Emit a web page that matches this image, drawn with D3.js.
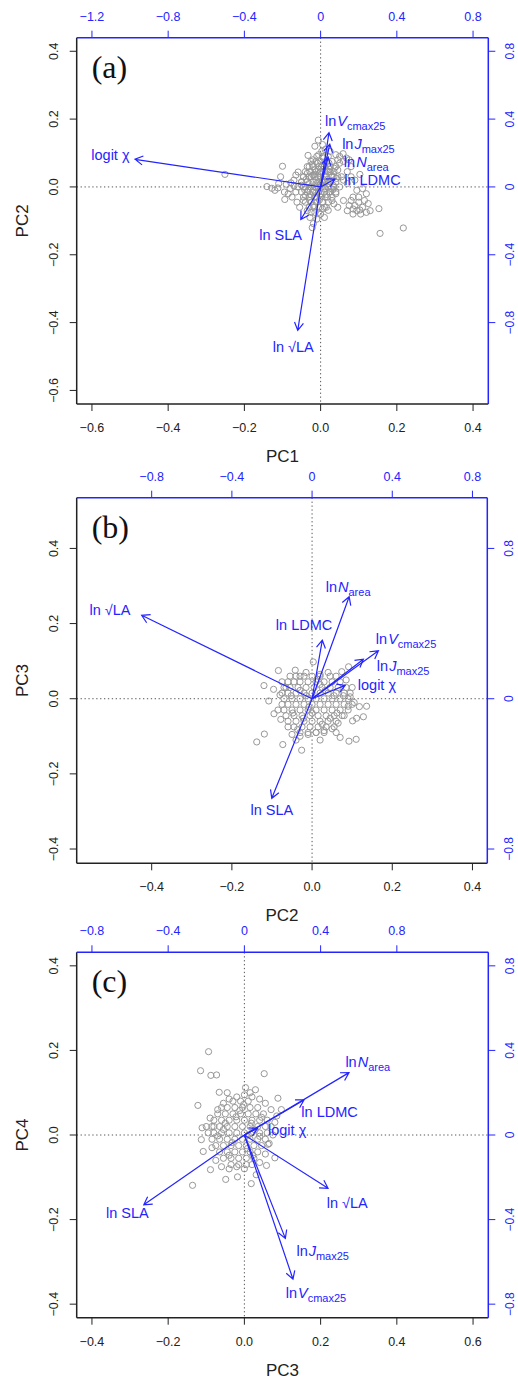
<!DOCTYPE html>
<html>
<head>
<meta charset="utf-8">
<script src="https://cdn.jsdelivr.net/npm/d3@7"></script>
<style>
  body { margin: 0; background: #fff; }
  svg { display: block; font-family: "Liberation Sans", Arial, sans-serif; }
</style>
</head>
<body>
<div id="chart"></div>
<script>
// variable order used by every loadings / label array below
var varKeys = ["Vcmax", "Jmax", "Narea", "LDMC", "SLA", "LA", "logit"];

var loadingsA = [[0.044, 0.32], [0.048, 0.252], [0.04, 0.176], [0.075, 0.047], [-0.104, -0.192], [-0.12, -0.846], [-0.974, 0.163]];
var loadingsB = [[0.331, 0.255], [0.256, 0.21], [0.185, 0.543], [0.051, 0.312], [-0.201, -0.53], [-0.85, 0.444], [0.165, 0.071]];
var loadingsC = [[0.255, -0.682], [0.215, -0.489], [0.549, 0.295], [0.313, 0.166], [-0.528, -0.33], [0.439, -0.252], [0.068, 0.031]];

// where each label sits, same (blue axis) units
var labelsA = [[0.023, 0.389], [0.113, 0.256], [0.122, 0.147], [0.124, 0.04], [-0.21, -0.285], [-0.144, -0.944], [-1.103, 0.187]];
var labelsB = [[0.318, 0.316], [0.323, 0.174], [0.068, 0.596], [-0.04, 0.392], [-0.201, -0.592], [-1.008, 0.472], [0.228, 0.073]];
var labelsC = [[0.217, -0.745], [0.273, -0.549], [0.53, 0.347], [0.299, 0.107], [-0.614, -0.371], [0.54, -0.321], [0.124, 0.022]];
var anchorsA = ["start", "start", "start", "start", "middle", "middle", "middle"];
var anchorsB = ["start", "start", "start", "middle", "middle", "middle", "start"];
var anchorsC = ["start", "start", "start", "start", "middle", "middle", "start"];

// site scores (black axes)
var scoresA = [
  [-0.251,0.037],[-0.141,0.001],[-0.128,-0.004],[-0.112,-0.003],[-0.100,0.061],[-0.094,-0.037],[-0.105,0.030],[-0.078,0.012],
  [-0.085,-0.020],[-0.059,0.044],[-0.070,0.020],[-0.062,-0.045],[-0.050,0.005],[-0.055,-0.060],[-0.045,0.030],[-0.040,-0.025],
  [-0.033,0.093],[-0.030,0.060],[-0.035,-0.070],[-0.028,-0.090],[-0.019,-0.108],[-0.022,-0.120],[-0.015,0.120],[-0.006,0.138],
  [0.005,0.125],[0.012,0.110],[0.025,0.105],[0.040,0.095],[0.059,0.098],[0.068,0.085],[0.050,0.070],[0.080,0.060],
  [0.103,0.037],[0.090,0.020],[0.070,0.010],[0.095,-0.010],[0.110,-0.005],[0.120,-0.020],[0.085,-0.030],[0.100,-0.045],
  [0.125,-0.049],[0.103,-0.068],[0.085,-0.065],[0.075,-0.055],[0.130,-0.070],[0.153,-0.064],[0.156,-0.137],[0.217,-0.121],
  [0.060,-0.040],[0.045,-0.060],[0.020,-0.069],[0.035,-0.050],[0.000,-0.080],[-0.010,-0.095],[0.010,-0.090],
  [-0.030,0.010],[-0.025,0.030],[-0.020,-0.010],[-0.015,0.050],[-0.012,0.020],[-0.010,-0.030],[-0.008,0.070],[-0.005,0.000],
  [-0.003,0.040],[0.000,-0.020],[0.002,0.060],[0.004,0.015],[0.006,-0.045],[0.008,0.085],[0.010,0.030],[0.012,-0.005],
  [0.015,0.050],[0.018,-0.030],[0.020,0.010],[0.022,0.070],[0.025,-0.015],[0.028,0.035],[0.030,-0.040],[0.033,0.005],
  [0.036,0.055],[0.040,-0.020],[0.042,0.025],[-0.040,0.000],[-0.035,0.040],[-0.045,-0.040],[-0.020,0.080],[-0.018,-0.055],
  [-0.005,0.095],[0.000,0.045],[-0.028,-0.040],[0.015,-0.060],[0.005,-0.065],[-0.010,0.010],[0.010,0.000],[-0.020,0.035],
  [0.025,0.045],[0.035,0.030],[0.050,0.000],[0.055,0.030],[0.045,0.050],[-0.050,0.015],[-0.060,0.000],[-0.065,-0.015],
  [-0.032,-0.010],[-0.015,-0.075],[0.003,0.105],[-0.008,0.030],[0.000,0.008],[0.018,0.022],[0.028,-0.005],[-0.013,-0.018],
  [-0.010,0.090],[0.005,0.090],[0.020,0.090],[-0.025,0.075],[-0.012,0.075],[0.000,0.075],[0.015,0.075],[0.030,0.075],
  [-0.035,0.060],[-0.020,0.060],[-0.005,0.060],[0.010,0.060],[0.025,0.060],[0.040,0.060],[-0.040,0.045],[-0.028,0.045],
  [-0.012,0.045],[0.006,0.045],[0.020,0.045],[0.035,0.045],[-0.045,0.030],[-0.030,0.030],[-0.015,0.030],[0.000,0.030],
  [0.015,0.030],[0.030,0.030],[0.045,0.030],[-0.050,0.015],[-0.035,0.015],[-0.020,0.015],[-0.002,0.015],[0.012,0.015],
  [0.025,0.015],[0.040,0.015],[-0.045,0.000],[-0.025,0.000],[-0.015,0.000],[0.002,0.000],[0.020,0.000],[0.035,0.000],
  [-0.050,-0.015],[-0.035,-0.015],[-0.020,-0.015],[-0.005,-0.015],[0.010,-0.015],[0.022,-0.015],[0.040,-0.015],[-0.045,-0.030],
  [-0.030,-0.030],[-0.015,-0.030],[0.000,-0.030],[0.012,-0.030],[0.030,-0.030],[-0.040,-0.045],[-0.025,-0.045],[-0.010,-0.045],
  [0.005,-0.045],[0.020,-0.045],[-0.030,-0.060],[-0.018,-0.060],[-0.005,-0.060],[0.010,-0.060],[-0.025,-0.075],[-0.005,-0.075],
  [-0.080,-0.005],[-0.090,0.008],[-0.110,0.010],[-0.120,-0.010],[-0.095,-0.015],[-0.070,0.003],[-0.075,-0.030],[-0.065,0.035],
  [0.080,-0.040],[0.090,-0.055],[0.100,-0.030],[0.110,-0.060],[0.095,-0.070],[0.115,-0.040],[0.070,-0.070],[0.120,-0.075],
  [0.105,-0.080],[0.085,-0.080],[0.050,0.090],[0.060,0.075],[0.075,0.080],[0.045,0.080],[0.070,0.045],[0.060,0.020],
  [0.080,0.030],
  [-0.017,0.037],[0.007,0.022],[-0.027,-0.022],[0.016,-0.022],[-0.006,0.052],[0.024,0.052],[-0.038,0.022],[-0.003,-0.038],
  [0.032,-0.008],[-0.022,0.067],[0.009,0.068],[-0.042,-0.008]
];
var scoresB = [
  [-0.084,0.075],[-0.120,0.035],[-0.096,0.025],[-0.108,-0.006],[-0.138,-0.115],[-0.119,-0.094],[-0.073,-0.122],[-0.026,-0.137],
  [0.070,-0.103],[0.092,-0.113],[0.110,-0.108],[0.128,-0.048],[0.136,-0.020],[0.111,-0.052],[0.101,-0.059],[0.118,-0.021],
  [0.091,0.085],[0.074,0.072],[0.003,0.098],[-0.042,0.076],
  [-0.075,0.045],[-0.080,0.010],[-0.085,-0.030],[-0.078,-0.055],[-0.060,-0.075],[-0.050,-0.095],[-0.030,-0.100],[-0.010,-0.095],
  [0.010,-0.090],[0.030,-0.085],[0.050,-0.080],[0.065,-0.065],[0.080,-0.045],[0.090,-0.020],[0.095,0.005],[0.100,0.030],
  [0.085,0.050],[0.060,0.060],[0.040,0.070],[0.020,0.065],[-0.015,0.070],[-0.030,0.060],[-0.055,0.060],[-0.065,0.030],
  [0.060,-0.090],[-0.040,-0.110],[0.020,-0.110],[-0.095,-0.040],[0.105,-0.010],
  [-0.040,0.060],[-0.020,0.060],[0.000,0.060],[0.020,0.060],[0.045,0.060],
  [-0.060,0.045],[-0.045,0.045],[-0.030,0.045],[-0.010,0.045],[0.010,0.045],[0.030,0.045],[0.050,0.045],[0.070,0.045],
  [-0.070,0.030],[-0.055,0.030],[-0.035,0.030],[-0.015,0.030],[0.005,0.030],[0.025,0.030],[0.045,0.030],[0.065,0.030],[0.085,0.030],
  [-0.075,0.015],[-0.060,0.015],[-0.040,0.015],[-0.020,0.015],[0.000,0.015],[0.020,0.015],[0.040,0.015],[0.060,0.015],[0.080,0.015],[0.095,0.015],
  [-0.070,0.000],[-0.050,0.000],[-0.030,0.000],[-0.010,0.000],[0.010,0.000],[0.030,0.000],[0.050,0.000],[0.070,0.000],[0.090,0.000],
  [-0.075,-0.015],[-0.060,-0.015],[-0.040,-0.015],[-0.020,-0.015],[0.000,-0.015],[0.020,-0.015],[0.040,-0.015],[0.060,-0.015],[0.080,-0.015],[0.100,-0.015],
  [-0.070,-0.030],[-0.050,-0.030],[-0.030,-0.030],[-0.010,-0.030],[0.010,-0.030],[0.030,-0.030],[0.050,-0.030],[0.070,-0.030],[0.090,-0.030],
  [-0.065,-0.045],[-0.045,-0.045],[-0.025,-0.045],[-0.005,-0.045],[0.015,-0.045],[0.035,-0.045],[0.055,-0.045],[0.075,-0.045],
  [-0.060,-0.060],[-0.040,-0.060],[-0.020,-0.060],[0.000,-0.060],[0.020,-0.060],[0.040,-0.060],[0.060,-0.060],
  [-0.045,-0.075],[-0.025,-0.075],[-0.005,-0.075],[0.015,-0.075],[0.035,-0.075],[0.055,-0.075],
  [-0.030,-0.090],[-0.010,-0.090],[0.010,-0.090],[0.030,-0.090],
  [-0.052,0.008],[-0.022,-0.052],[0.033,0.022],[0.062,-0.038],[0.013,0.052],[-0.036,-0.082],[0.078,0.008],[-0.008,-0.022],
  [-0.030,0.022],[0.020,0.038],[-0.048,-0.038],[0.045,-0.052],[0.000,-0.038],[-0.015,0.008],[0.055,0.008],[0.025,-0.068]
];
var scoresC = [
  [-0.094,0.197],[-0.115,0.152],[-0.088,0.141],[-0.073,0.142],[0.052,0.145],[0.003,0.112],[0.029,0.107],[-0.066,0.101],
  [-0.122,0.070],[0.088,0.087],[0.097,0.060],[-0.136,-0.119],[-0.049,-0.105],[-0.018,-0.099],[0.018,-0.115],[-0.089,-0.082],
  [-0.108,-0.039],[-0.113,-0.011],[-0.111,0.017],[0.058,-0.072],[0.080,-0.054],[0.031,-0.094],
  [-0.090,0.040],[-0.095,0.005],[-0.085,-0.030],[-0.075,-0.060],[-0.060,-0.075],[-0.040,-0.080],[-0.020,-0.075],[0.000,-0.080],
  [0.020,-0.070],[0.040,-0.065],[0.055,-0.045],[0.065,-0.020],[0.075,0.000],[0.080,0.030],[0.070,0.060],[0.055,0.075],
  [0.040,0.085],[0.020,0.090],[0.000,0.095],[-0.020,0.090],[-0.040,0.085],[-0.055,0.075],[-0.070,0.060],[-0.080,0.020],
  [-0.100,0.020],[0.085,0.045],[-0.045,0.100],[0.015,0.100],
  [-0.030,0.080],[-0.010,0.080],[0.010,0.080],
  [-0.060,0.065],[-0.045,0.065],[-0.025,0.065],[-0.005,0.065],[0.015,0.065],[0.035,0.065],
  [-0.070,0.050],[-0.050,0.050],[-0.030,0.050],[-0.010,0.050],[0.010,0.050],[0.030,0.050],[0.050,0.050],
  [-0.080,0.035],[-0.060,0.035],[-0.040,0.035],[-0.020,0.035],[0.000,0.035],[0.020,0.035],[0.040,0.035],[0.060,0.035],
  [-0.085,0.020],[-0.065,0.020],[-0.045,0.020],[-0.025,0.020],[-0.005,0.020],[0.015,0.020],[0.035,0.020],[0.055,0.020],[0.070,0.020],
  [-0.080,0.005],[-0.060,0.005],[-0.040,0.005],[-0.020,0.005],[0.000,0.005],[0.020,0.005],[0.040,0.005],[0.060,0.005],
  [-0.085,-0.010],[-0.065,-0.010],[-0.045,-0.010],[-0.025,-0.010],[-0.005,-0.010],[0.015,-0.010],[0.035,-0.010],[0.055,-0.010],
  [-0.075,-0.025],[-0.055,-0.025],[-0.035,-0.025],[-0.015,-0.025],[0.005,-0.025],[0.025,-0.025],[0.045,-0.025],
  [-0.065,-0.040],[-0.045,-0.040],[-0.025,-0.040],[-0.005,-0.040],[0.015,-0.040],[0.035,-0.040],
  [-0.055,-0.055],[-0.035,-0.055],[-0.015,-0.055],[0.005,-0.055],[0.025,-0.055],
  [-0.035,-0.070],[-0.015,-0.070],[0.005,-0.070],
  [-0.050,0.028],[0.028,0.012],[-0.032,-0.018],[0.045,0.042],[-0.012,0.058],[0.008,-0.032],[-0.070,-0.002],[0.062,-0.022],
  [-0.022,0.043],[0.018,0.028],[-0.055,0.013],[0.010,0.000],[-0.040,-0.048],[0.040,-0.003],[-0.002,0.072],[0.022,-0.048]
];

// tick values
var bottomTicksA = [-0.6, -0.4, -0.2, 0, 0.2, 0.4], leftTicksA = [-0.6, -0.4, -0.2, 0, 0.2, 0.4];
var topTicksA = [-1.2, -0.8, -0.4, 0, 0.4, 0.8], rightTicksA = [-0.8, -0.4, 0, 0.4, 0.8];
var bottomTicksB = [-0.4, -0.2, 0, 0.2, 0.4], leftTicksB = [-0.4, -0.2, 0, 0.2, 0.4];
var topTicksB = [-0.8, -0.4, 0, 0.4, 0.8], rightTicksB = [-0.8, 0, 0.8];
var bottomTicksC = [-0.4, -0.2, 0, 0.2, 0.4, 0.6], leftTicksC = [-0.4, -0.2, 0, 0.2, 0.4];
var topTicksC = [-0.8, -0.4, 0, 0.4, 0.8], rightTicksC = [-0.8, -0.4, 0, 0.4, 0.8];

var panels = [
  { letter: "(a)", xTitle: "PC1", yTitle: "PC2", xlim: [-0.64, 0.44], ylim: [-0.64, 0.44],
    box: [76.7, 37.7, 488.3, 404], scores: scoresA, loadings: loadingsA, labels: labelsA, anchors: anchorsA,
    bt: bottomTicksA, lt: leftTicksA, tt: topTicksA, rt: rightTicksA },
  { letter: "(b)", xTitle: "PC2", yTitle: "PC3", xlim: [-0.587, 0.437], ylim: [-0.438, 0.535],
    box: [76.7, 497.7, 487.3, 863.3], scores: scoresB, loadings: loadingsB, labels: labelsB, anchors: anchorsB,
    bt: bottomTicksB, lt: leftTicksB, tt: topTicksB, rt: rightTicksB },
  { letter: "(c)", xTitle: "PC3", yTitle: "PC4", xlim: [-0.44, 0.64], ylim: [-0.432, 0.432],
    box: [76.7, 952.3, 488.3, 1317.7], scores: scoresC, loadings: loadingsC, labels: labelsC, anchors: anchorsC,
    bt: bottomTicksC, lt: leftTicksC, tt: topTicksC, rt: rightTicksC }
];

var width = 518, height = 1382;
var blue = "#2424ff", ink = "#222";

var svg = d3.select("#chart").append("svg")
    .attr("width", width)
    .attr("height", height);

var fmtPrimary = d3.format(".1f");
var fmtSecondary = function(v) { return v === 0 ? "0" : d3.format(".1f")(v); };

function varLabel(sel, key) {
    var parts = {
        Vcmax: ["ln", "V", "cmax25"],
        Jmax: ["ln", "J", "max25"],
        Narea: ["ln", "N", "area"],
        LDMC: ["ln LDMC"],
        SLA: ["ln SLA"],
        LA: ["ln \u221ALA"],
        logit: ["logit \u03C7"]
    }[key];
    sel.append("tspan").text(parts[0]);
    if (parts.length > 1) {
        sel.append("tspan").attr("dx", 1).style("font-style", "italic").text(parts[1]);
        sel.append("tspan").attr("dy", 4).style("font-size", "11px").text(parts[2]);
    }
}

panels.forEach(function(p) {
    var b = p.box;
    var x = d3.scaleLinear().domain(p.xlim).range([b[0], b[2]]);
    var y = d3.scaleLinear().domain(p.ylim).range([b[3], b[1]]);
    var x2 = d3.scaleLinear().domain(p.xlim.map(function(v) { return v * 2; })).range([b[0], b[2]]);
    var y2 = d3.scaleLinear().domain(p.ylim.map(function(v) { return v * 2; })).range([b[3], b[1]]);

    var g = svg.append("g");

    // zero lines
    g.append("line")
        .attr("x1", b[0]).attr("x2", b[2]).attr("y1", y(0)).attr("y2", y(0))
        .attr("stroke", "#555").attr("stroke-width", 1).attr("stroke-dasharray", "1.3,2.6");
    g.append("line")
        .attr("x1", x(0)).attr("x2", x(0)).attr("y1", b[1]).attr("y2", b[3])
        .attr("stroke", "#555").attr("stroke-width", 1).attr("stroke-dasharray", "1.3,2.6");

    // scores
    g.selectAll("circle.score")
        .data(p.scores)
        .enter().append("circle")
            .attr("class", "score")
            .attr("cx", function(d) { return x(d[0]); })
            .attr("cy", function(d) { return y(d[1]); })
            .attr("r", 3.1)
            .attr("fill", "none")
            .attr("stroke", "#989898")
            .attr("stroke-width", 1);

    // loading arrows
    var x0 = x2(0), y0 = y2(0);
    p.loadings.forEach(function(d) {
        var tx = x2(d[0]), ty = y2(d[1]);
        var ang = Math.atan2(ty - y0, tx - x0);
        var len = 9, spread = Math.PI / 6;
        var h1 = [tx - len * Math.cos(ang - spread), ty - len * Math.sin(ang - spread)];
        var h2 = [tx - len * Math.cos(ang + spread), ty - len * Math.sin(ang + spread)];
        g.append("path")
            .attr("d", "M" + x0 + "," + y0 + "L" + tx + "," + ty +
                       "M" + h1[0] + "," + h1[1] + "L" + tx + "," + ty + "L" + h2[0] + "," + h2[1])
            .attr("fill", "none")
            .attr("stroke", blue)
            .attr("stroke-width", 1.2);
    });

    // loading labels
    p.labels.forEach(function(d, i) {
        var t = g.append("text")
            .attr("x", x2(d[0]))
            .attr("y", y2(d[1]) + 5)
            .attr("text-anchor", p.anchors[i])
            .attr("fill", blue)
            .style("font-size", "14.5px");
        varLabel(t, varKeys[i]);
    });

    // frame: black left/bottom, blue top/right
    g.append("line").attr("x1", b[0]).attr("x2", b[0]).attr("y1", b[1]).attr("y2", b[3])
        .attr("stroke", ink).attr("stroke-width", 1.5);
    g.append("line").attr("x1", b[0]).attr("x2", b[2]).attr("y1", b[3]).attr("y2", b[3])
        .attr("stroke", ink).attr("stroke-width", 1.5);
    g.append("line").attr("x1", b[0]).attr("x2", b[2]).attr("y1", b[1]).attr("y2", b[1])
        .attr("stroke", blue).attr("stroke-width", 1.5);
    g.append("line").attr("x1", b[2]).attr("x2", b[2]).attr("y1", b[1]).attr("y2", b[3])
        .attr("stroke", blue).attr("stroke-width", 1.5);

    // axes
    var tickLen = 7;
    p.bt.forEach(function(v) {
        g.append("line").attr("x1", x(v)).attr("x2", x(v)).attr("y1", b[3]).attr("y2", b[3] + tickLen)
            .attr("stroke", ink).attr("stroke-width", 1);
        g.append("text").attr("x", x(v)).attr("y", b[3] + 28).attr("text-anchor", "middle")
            .attr("fill", ink).style("font-size", "12.5px").text(fmtPrimary(v));
    });
    p.lt.forEach(function(v) {
        g.append("line").attr("x1", b[0] - tickLen).attr("x2", b[0]).attr("y1", y(v)).attr("y2", y(v))
            .attr("stroke", ink).attr("stroke-width", 1);
        g.append("text").attr("transform", "translate(" + (b[0] - 23) + "," + y(v) + ") rotate(-90)")
            .attr("text-anchor", "middle").attr("dy", "0.35em")
            .attr("fill", ink).style("font-size", "12.5px").text(fmtPrimary(v));
    });
    p.tt.forEach(function(v) {
        g.append("line").attr("x1", x2(v)).attr("x2", x2(v)).attr("y1", b[1] - tickLen).attr("y2", b[1])
            .attr("stroke", blue).attr("stroke-width", 1);
        g.append("text").attr("x", x2(v)).attr("y", b[1] - 17).attr("text-anchor", "middle")
            .attr("fill", blue).style("font-size", "12.5px").text(fmtSecondary(v));
    });
    p.rt.forEach(function(v) {
        g.append("line").attr("x1", b[2]).attr("x2", b[2] + tickLen).attr("y1", y2(v)).attr("y2", y2(v))
            .attr("stroke", blue).attr("stroke-width", 1);
        g.append("text").attr("transform", "translate(" + (b[2] + 21.5) + "," + y2(v) + ") rotate(-90)")
            .attr("text-anchor", "middle").attr("dy", "0.35em")
            .attr("fill", blue).style("font-size", "12px").text(fmtSecondary(v));
    });

    // titles
    g.append("text")
        .attr("x", (b[0] + b[2]) / 2).attr("y", b[3] + 58)
        .attr("text-anchor", "middle").attr("fill", ink)
        .style("font-size", "17px").text(p.xTitle);
    g.append("text")
        .attr("transform", "translate(22," + ((b[1] + b[3]) / 2) + ") rotate(-90)")
        .attr("text-anchor", "middle").attr("dy", "0.35em").attr("fill", ink)
        .style("font-size", "17px").text(p.yTitle);

    g.append("text")
        .attr("x", b[0] + 15).attr("y", b[1] + 40)
        .attr("fill", "#111")
        .style("font-family", "'Liberation Serif', 'Times New Roman', serif")
        .style("font-size", "32px")
        .text(p.letter);
});
</script>
</body>
</html>
